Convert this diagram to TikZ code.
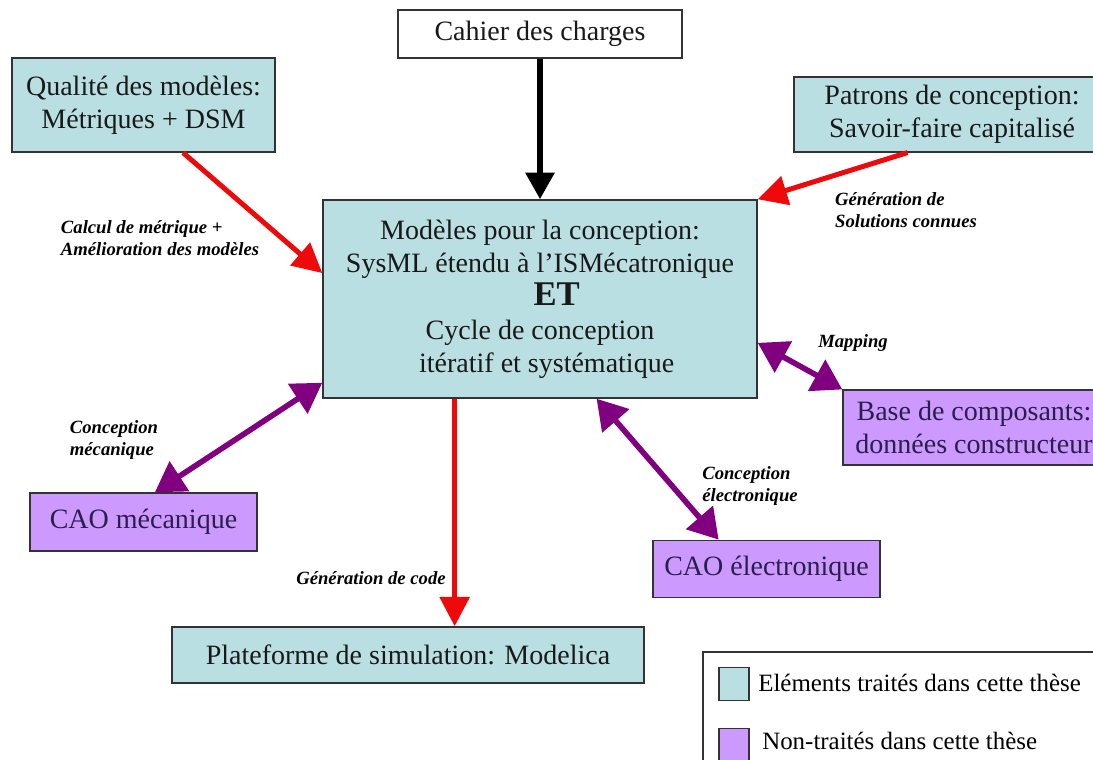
\documentclass[tikz,border=0pt]{standalone}
\usepackage{fontspec}
\setmainfont{Liberation Serif}
\usetikzlibrary{arrows.meta,calc}
\definecolor{treated}{HTML}{BADFE2}
\definecolor{untreated}{HTML}{CC99FF}
\definecolor{untreatedtext}{HTML}{2A1E4A}
\definecolor{linkred}{HTML}{EE0A0A}
\definecolor{linkpurple}{HTML}{800080}
\definecolor{frameline}{HTML}{333333}

\begin{document}
\begin{tikzpicture}[x=0.75pt,y=-0.75pt,
  box/.style={draw=frameline,line width=1.1pt,align=center,inner sep=0pt,text=black!90,font=\fontsize{21}{25}\selectfont},
  done/.style={box,fill=treated},
  todo/.style={box,fill=untreated,text=untreatedtext},
  lbl/.style={align=left,inner sep=1pt,font=\fontsize{14}{16.5}\selectfont\bfseries\itshape},
  key/.style={draw=frameline,line width=0.8pt,minimum width=22.5pt,minimum height=25pt,inner sep=0pt},
  keytext/.style={anchor=west,inner sep=0pt,font=\fontsize{18.7}{22}\selectfont},
  input/.style={->,>={Triangle[length=20pt,width=21pt]},line width=4.5pt,draw=black},
  feed/.style={->,>={Triangle[length=22pt,width=22pt]},line width=3.75pt,draw=linkred},
  link/.style={<->,>={Triangle[length=22pt,width=26pt]},line width=4.2pt,draw=linkpurple}
]
\useasboundingbox (0,0) rectangle (1093,760);
\clip (0,0) rectangle (1093,760);
\node[box,minimum width=213pt,minimum height=36pt] (cdc) at (540,34) {Cahier des charges};
\node[done,minimum width=197pt,minimum height=70.5pt] (qual) at (143.5,105) {Qualité des modèles:\\Métriques + DSM};
\node[done,minimum width=237pt,minimum height=56pt] (pat) at (952,114.5) {Patrons de conception:\\Savoir-faire capitalisé};
\node[done,minimum width=325.5pt,minimum height=148.5pt] (core) at (540,299)
  {Modèles pour la conception:\\SysML étendu à l’ISMécatronique\\{\fontsize{26}{25}\selectfont\bfseries\hspace*{25pt}ET}\\Cycle de conception\\\hspace*{10pt}itératif et systématique};
\node[todo,minimum width=196.5pt,minimum height=56pt] (base) at (974,427.5) {Base de composants:\\données constructeur};
\node[todo,minimum width=170pt,minimum height=43.5pt] (meca) at (143.5,522) {CAO mécanique};
\node[todo,minimum width=170pt,minimum height=43pt] (elec) at (766.5,569) {CAO électronique};
\node[done,minimum width=354pt,minimum height=42pt] (plat) at (408,655) {Plateforme de simulation: Modelica};

\draw[input] (cdc.south) -- (core.north);
\draw[feed] ($(qual.south west)!0.65!(qual.south east)$) -- ($(core.north west)!0.37!(core.south west)$);
\draw[feed] ($(pat.south west)!0.36!(pat.south east)$) -- (core.north east);
\coordinate (gen) at ($(core.south west)!0.304!(core.south east)$);
\draw[feed] (gen) -- (gen |- plat.north);
\draw[link] ($(core.north west)!0.92!(core.south west)$) -- ($(meca.north west)!0.55!(meca.north east)$);
\draw[link] ($(core.north east)!0.72!(core.south east)$) -- (base.north west);
\draw[link] ($(core.south west)!0.63!(core.south east)$) -- ($(elec.north west)!0.29!(elec.north east)$);

\node[lbl] (lqual) at (160,238) {Calcul de métrique +\\Amélioration des modèles};
\node[lbl] (lpat) at (906,210) {Génération de\\Solutions connues};
\node[lbl] (lmap) at (853,343) {Mapping};
\node[lbl] (lmeca) at (114,440) {Conception\\mécanique};
\node[lbl] (lelec) at (750,486) {Conception\\électronique};
\node[lbl] (lgen) at (371,578) {Génération de code};

\node[draw=frameline,line width=1.1pt,minimum width=305pt,minimum height=92pt] (legend) at (906.5,713.5) {};
\node[key,fill=treated] (keydone) at (734,684) {};
\node[keytext] (txtdone) at (758,683) {Eléments traités dans cette thèse};
\node[key,fill=untreated] (keytodo) at (734,745) {};
\node[keytext] (txttodo) at (762,741) {Non-traités dans cette thèse};
\end{tikzpicture}
\end{document}
